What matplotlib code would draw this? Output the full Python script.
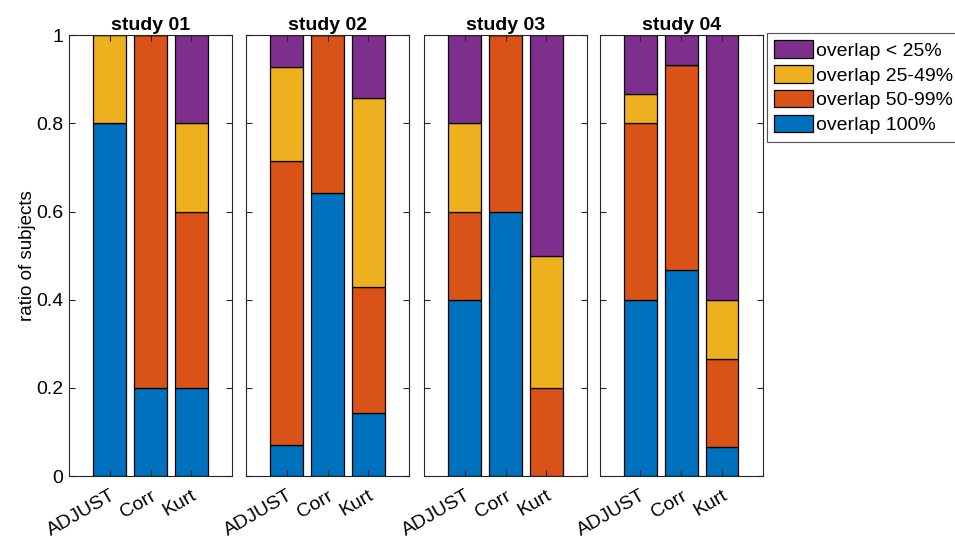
import numpy as np
import matplotlib.pyplot as plt

plt.rcParams['font.family'] = ['Liberation Sans', 'DejaVu Sans']

studies = ['study 01', 'study 02', 'study 03', 'study 04']
methods = ['ADJUST', 'Corr', 'Kurt']
categories = ['overlap 100%', 'overlap 50-99%', 'overlap 25-49%', 'overlap < 25%']
colors = ['#0072BD', '#D95319', '#EDB120', '#7E2F8E']

# ratio of subjects per overlap category, rows = method, cols = category
study01 = [[0.8, 0.0, 0.2, 0.0],
           [0.2, 0.8, 0.0, 0.0],
           [0.2, 0.4, 0.2, 0.2]]
study02 = [[1/14, 9/14, 3/14, 1/14],
           [9/14, 5/14, 0.0, 0.0],
           [2/14, 4/14, 6/14, 2/14]]
study03 = [[0.4, 0.2, 0.2, 0.2],
           [0.6, 0.4, 0.0, 0.0],
           [0.0, 0.2, 0.3, 0.5]]
study04 = [[6/15, 6/15, 1/15, 2/15],
           [7/15, 7/15, 0.0, 1/15],
           [1/15, 3/15, 2/15, 9/15]]
data = [study01, study02, study03, study04]

fig = plt.figure(figsize=(9.55, 5.41), dpi=100)
lefts = [0.0723, 0.2576, 0.444, 0.628]
x = np.arange(1, len(methods) + 1)

handles = []
for k, (name, vals) in enumerate(zip(studies, data)):
    ax = fig.add_axes([lefts[k], 0.120, 0.1707, 0.815])
    vals = np.array(vals)
    bottom = np.zeros(len(methods))
    for c in range(len(categories)):
        b = ax.bar(x, vals[:, c], 0.8, bottom=bottom, color=colors[c],
                   edgecolor='black', linewidth=0.9, label=categories[c])
        bottom += vals[:, c]
        if k == 0:
            handles.append(b)
    ax.set_xlim(0, 4)
    ax.set_ylim(0, 1)
    ax.set_xticks(x)
    ax.set_xticklabels(methods, rotation=30, ha='right', rotation_mode='anchor')
    ax.set_yticks([0, 0.2, 0.4, 0.6, 0.8, 1])
    ax.tick_params(direction='in', top=True, right=True, length=4,
                   labelsize=14, color='#262626', pad=4)
    ax.tick_params(axis='x', pad=8)
    ax.set_title(name, fontsize=14, fontweight='bold', pad=4)
    for s in ax.spines.values():
        s.set_color('#262626')
        s.set_linewidth(0.8)
    if k == 0:
        ax.set_yticklabels(['0', '0.2', '0.4', '0.6', '0.8', '1'])
        ax.set_ylabel('ratio of subjects', fontsize=13.5, labelpad=0)
    else:
        ax.set_yticklabels([])

leg = fig.legend(handles[::-1], categories[::-1], loc='upper left',
                 bbox_to_anchor=(0.803, 0.939), fontsize=14, frameon=True,
                 fancybox=False, edgecolor='#262626', handlelength=2.0,
                 handleheight=1.0, handletextpad=0.15, labelspacing=0.28,
                 borderpad=0.38, borderaxespad=0)
leg.get_frame().set_linewidth(0.8)

fig.savefig('out.png', dpi=100)
